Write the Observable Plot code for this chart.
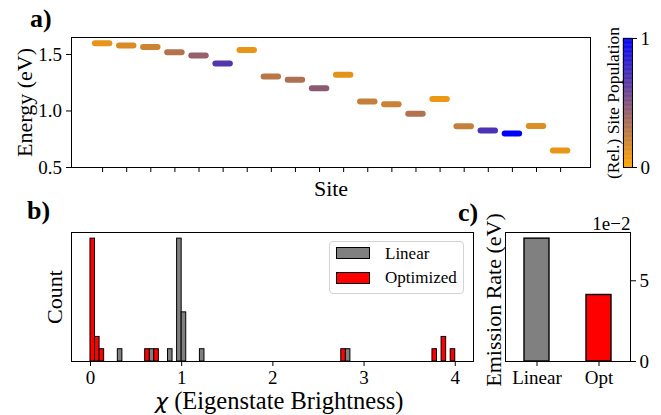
<!DOCTYPE html>
<html>
<head>
<meta charset="utf-8">
<script src="https://cdn.jsdelivr.net/npm/d3@7"></script>
<script src="https://cdn.jsdelivr.net/npm/@observablehq/plot@0.6"></script>
<style>
  html, body { margin: 0; padding: 0; background: #fff; overflow: hidden; }
  #fig { position: relative; width: 661px; height: 415px; overflow: hidden;
         font-family: "Liberation Serif", "Times New Roman", serif; color: #000; }
  #fig svg, #fig svg text { font-family: "Liberation Serif", "Times New Roman", serif; }
  .lbl { position: absolute; white-space: nowrap; line-height: 0.8; }
</style>
</head>
<body>
<div id="fig"></div>
<script>
// ---------------- data ----------------
const siteIndex = [0,1,2,3,4,5,6,7,8,9,10,11,12,13,14,15,16,17,18,19];
const siteEnergy = [1.600,1.580,1.567,1.520,1.490,1.420,1.540,1.305,1.276,1.200,
                    1.320,1.084,1.060,0.975,1.105,0.865,0.827,0.800,0.868,0.650];
const sitePopulation = [0.10,0.15,0.20,0.30,0.41,0.67,0.09,0.28,0.32,0.45,
                        0.11,0.23,0.21,0.31,0.08,0.23,0.70,1.00,0.14,0.09];
const energyTicks = [0.5, 1.0, 1.5];
const populationTicks = [0, 1];

const histBinWidth = 0.05;
const linearBinStart = [0.30, 0.65, 0.85, 0.95, 1.00, 1.20, 2.80];
const linearCount    = [1, 1, 1, 10, 4, 1, 1];
const optimizedBinStart = [0.00, 0.05, 0.10, 0.60, 0.70, 2.75, 3.75, 3.85, 3.95];
const optimizedCount    = [10, 2, 1, 1, 1, 1, 1, 2, 1];
const chiTicks = [0, 1, 2, 3, 4];
const seriesNames = ["Linear", "Optimized"];

const methods = ["Linear", "Opt"];
const emissionRate = [0.0761, 0.0412];
const rateTicks = [0, 0.05];

// ---------------- helpers ----------------
const fig = document.getElementById("fig");
const FONT = '"Liberation Serif", "Times New Roman", serif';
const LINE = 0.8;
const baseStyle = { fontFamily: FONT, fontSize: "19px", color: "black", background: "none", overflow: "visible" };
function place(el, left, top) {
  el.style.position = "absolute";
  el.style.left = left + "px";
  el.style.top = top + "px";
  fig.appendChild(el);
  return el;
}
function baselineOffset(size) { return ((LINE - 1.107) / 2 + 0.891) * size; }
function label(html, left, baseline, size, extra) {
  const d = document.createElement("div");
  d.className = "lbl";
  d.innerHTML = html;
  d.style.fontSize = size + "px";
  if (extra) Object.assign(d.style, extra);
  return place(d, left, baseline - baselineOffset(size));
}
const popColor = { type: "linear", domain: [0, 1], range: ["orange", "blue"], interpolate: "rgb" };

// ---------------- panel a ----------------
const siteData = siteIndex.map((s, i) => ({ site: s, energy: siteEnergy[i], pop: sitePopulation[i] }));
const plotA = Plot.plot({
  width: 600, height: 200, marginLeft: 71, marginRight: 10, marginTop: 37, marginBottom: 33,
  style: baseStyle,
  x: { domain: [-1.29, 20.24], label: null },
  y: { domain: [0.5, 1.65], label: null },
  color: popColor,
  marks: [
    Plot.ruleY(siteData, { y: "energy", x1: d => d.site - 0.3, x2: d => d.site + 0.3,
      stroke: "pop", strokeWidth: 6, strokeLinecap: "round" }),
    Plot.frame({ stroke: "black" }),
    Plot.axisY({ ticks: energyTicks, tickFormat: d3.format(".1f"), tickSize: 5, tickPadding: 4.5, label: null, fontFamily: FONT }),
    Plot.axisX({ ticks: siteIndex, tickFormat: () => "", tickSize: 5, label: null }),
    Plot.text(["Energy (eV)"], { frameAnchor: "left", textAnchor: "middle", lineAnchor: "middle", rotate: -90, dx: -47, fontSize: 22, fontFamily: FONT }),
    Plot.text(["Site"], { frameAnchor: "bottom", lineAnchor: "middle", dy: 21, fontSize: 22, fontFamily: FONT })
  ]
});
place(plotA, 0, 0);

// ---------------- colorbar ----------------
const rampStep = 0.01;
const ramp = d3.range(0, 1, rampStep);
const plotCB = Plot.plot({
  width: 71, height: 200, marginLeft: 33, marginRight: 29, marginTop: 38, marginBottom: 33,
  style: baseStyle,
  x: { domain: [0, 1], axis: null },
  y: { domain: [0, 1], label: null },
  color: popColor,
  marks: [
    Plot.rect(ramp, { x1: 0, x2: 1, y1: d => d, y2: d => Math.min(1, d + rampStep), fill: d => d, stroke: d => d, strokeWidth: 0.4 }),
    Plot.frame({ stroke: "black" }),
    Plot.axisY({ anchor: "right", ticks: populationTicks, tickFormat: d3.format("d"), tickSize: 4, tickPadding: 4, label: null, fontFamily: FONT }),
    Plot.text(["(Rel.) Site Population"], { frameAnchor: "left", textAnchor: "middle", lineAnchor: "middle", rotate: -90, dx: -10, fontSize: 17.5, fontFamily: FONT })
  ]
});
place(plotCB, 590, 0);

// ---------------- panel b ----------------
const linearData = linearBinStart.map((x, i) => ({ x0: x, count: linearCount[i] }));
const optimizedData = optimizedBinStart.map((x, i) => ({ x0: x, count: optimizedCount[i] }));
const seriesColor = { Linear: "#808080", Optimized: "#ff0000" };
const plotB = Plot.plot({
  width: 480, height: 215, marginLeft: 71, marginRight: 7, marginTop: 32, marginBottom: 54,
  style: baseStyle,
  x: { domain: [-0.208, 4.2], label: null },
  y: { domain: [0, 10.5], axis: null },
  marks: [
    Plot.rect(linearData, { x1: "x0", x2: d => d.x0 + histBinWidth, y1: 0, y2: "count",
      fill: seriesColor.Linear, stroke: "black", strokeWidth: 1 }),
    Plot.rect(optimizedData, { x1: "x0", x2: d => d.x0 + histBinWidth, y1: 0, y2: "count",
      fill: seriesColor.Optimized, stroke: "black", strokeWidth: 1 }),
    Plot.frame({ stroke: "black" }),
    Plot.axisX({ ticks: chiTicks, tickFormat: d3.format("d"), tickSize: 5, tickPadding: 3.5, label: null, fontFamily: FONT }),
    Plot.text(["Count"], { frameAnchor: "left", textAnchor: "middle", lineAnchor: "middle", rotate: -90, dx: -17, fontSize: 22, fontFamily: FONT })
  ]
});
place(plotB, 0, 200);

// legend for panel b
const legend = document.createElement("div");
legend.style.cssText = "width:135px;height:53px;box-sizing:border-box;border:1px solid #d3d3d3;border-radius:4px;background:rgba(255,255,255,0.8);";
place(legend, 329, 241);
seriesNames.forEach((name, i) => {
  const patch = document.createElement("div");
  patch.style.cssText = `position:absolute;left:6px;top:${5 + i * 25}px;width:34px;height:12px;box-sizing:border-box;border:1px solid #000;background:${seriesColor[name]};`;
  legend.appendChild(patch);
  const t = document.createElement("div");
  t.className = "lbl";
  t.textContent = name;
  t.style.fontSize = "17px";
  t.style.left = "55px";
  t.style.top = (18 + i * 23.5 - baselineOffset(17)) + "px";
  legend.appendChild(t);
});

// ---------------- panel c ----------------
const rateData = methods.map((m, i) => ({ method: m, rate: emissionRate[i] }));
const plotC = Plot.plot({
  width: 181, height: 215, marginLeft: 25, marginRight: 31, marginTop: 32, marginBottom: 54,
  style: baseStyle,
  x: { domain: methods, paddingInner: 0.595, paddingOuter: 0.29, label: null },
  y: { domain: [0, 0.0799], label: null },
  color: { domain: methods, range: ["#808080", "#ff0000"] },
  marks: [
    Plot.barY(rateData, { x: "method", y: "rate", fill: "method", stroke: "black", strokeWidth: 1.4 }),
    Plot.frame({ stroke: "black" }),
    Plot.axisY({ anchor: "right", ticks: rateTicks, tickFormat: d => String(Math.round(d * 100)), tickSize: 5, tickPadding: 4, label: null, fontFamily: FONT }),
    Plot.axisX({ tickSize: 5, tickPadding: 3.5, label: null, fontFamily: FONT }),
    Plot.text(["1e\u22122"], { frameAnchor: "top-right", textAnchor: "end", lineAnchor: "middle", dy: -9, fontSize: 19, fontFamily: FONT }),
    Plot.text(["Emission Rate (eV)"], { frameAnchor: "left", textAnchor: "middle", lineAnchor: "middle", rotate: -90, dx: -12, dy: 3, fontSize: 22, fontFamily: FONT })
  ]
});
place(plotC, 480, 200);

// ---------------- free text ----------------
label('<span style="font-family:\'DejaVu Sans\';font-style:italic;font-size:22px">\u03c7</span> (Eigenstate Brightness)', 155, 409, 24.5);
label("a)", 30, 28, 26, { fontWeight: "bold" });
label("b)", 27, 220, 26, { fontWeight: "bold" });
label("c)", 458, 222, 26, { fontWeight: "bold" });
</script>
</body>
</html>
